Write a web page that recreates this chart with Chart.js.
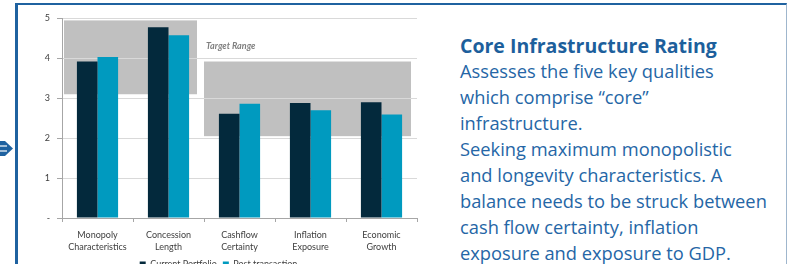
<!DOCTYPE html>
<html><head><meta charset="utf-8">
<script src="https://cdn.jsdelivr.net/npm/chart.js@4/dist/chart.umd.min.js"></script>
<style>
html,body{margin:0;padding:0;width:792px;height:264px;overflow:hidden;background:#fff;}
#frame{position:absolute;left:15px;top:3px;width:772px;height:300px;border-top:2px solid #1f62a0;border-left:3px solid #1f62a0;border-right:1px solid #9fb6cd;box-sizing:border-box;}
#wrap{position:absolute;left:20px;top:6px;width:420px;height:258px;overflow:hidden;}
#cv{position:absolute;left:0;top:0;}
#panel{position:absolute;left:460px;top:33px;width:330px;font-family:"Open Sans","Noto Sans",sans-serif;color:#2566a6;}
#title{font-weight:bold;font-size:19.5px;line-height:25px;color:#1d5f9c;white-space:nowrap;}
#body{font-size:18.3px;line-height:26px;white-space:nowrap;}
#arrow{position:absolute;left:0;top:138px;}
</style></head>
<body>
<div id="frame"></div>
<svg id="arrow" width="14" height="22"><polygon points="0,3 5,3 13,10.5 5,18 0,18" fill="#1f62a0"/><line x1="0" y1="8" x2="7" y2="8" stroke="#fff" stroke-width="1.2"/><line x1="0" y1="13" x2="7" y2="13" stroke="#fff" stroke-width="1.2"/></svg>
<div id="wrap"><canvas id="cv" width="420" height="273" style="width:420px;height:273px"></canvas></div>
<div id="panel">
<div id="title">Core Infrastructure Rating</div>
<div id="body">Assesses the five key qualities<br>which comprise “core”<br>infrastructure.<br>Seeking maximum monopolistic<br>and longevity characteristics. A<br>balance needs to be struck between<br>cash flow certainty, inflation<br>exposure and exposure to GDP.</div>
</div>
<script>
const categories = [['Monopoly','Characteristics'],['Concession','Length'],['Cashflow','Certainty'],['Inflation','Exposure'],['Economic','Growth']];
const seriesNames = ['Current Portfolio','Post transaction'];
const currentPortfolio = [3.92, 4.78, 2.61, 2.88, 2.90];
const postTransaction = [4.03, 4.58, 2.86, 2.70, 2.59];
const yTickLabels = ['-','1','2','3','4','5'];
const targetRangeLabel = 'Target Range';
const targetFirstCat = [0, 2];
const targetLastCat = [1, 4];
const targetLow = [3.1, 2.05];
const targetHigh = [4.95, 3.92];

const insetLeft = [2, 0];
const insetRight = [7, 6];

const targetPlugin = {
  id: 'targetRanges',
  beforeDraw(chart) {
    const xs = chart.scales.x, ys = chart.scales.y, ctx = chart.ctx;
    const half = (xs.getPixelForValue(1) - xs.getPixelForValue(0)) / 2;
    ctx.save();
    ctx.fillStyle = '#c0c0c0';
    for (let i = 0; i < targetLow.length; i++) {
      const l = xs.getPixelForValue(targetFirstCat[i]) - half + insetLeft[i];
      const r = xs.getPixelForValue(targetLastCat[i]) + half - insetRight[i];
      const t = ys.getPixelForValue(targetHigh[i]);
      const b = ys.getPixelForValue(targetLow[i]);
      ctx.fillRect(l, t, r - l, b - t);
    }
    const l2 = xs.getPixelForValue(targetFirstCat[1]) - half + insetLeft[1];
    const t2 = ys.getPixelForValue(targetHigh[1]);
    ctx.fillStyle = '#7f7f7f';
    ctx.font = 'italic bold 9px Lato';
    ctx.textBaseline = 'middle';
    ctx.fillText(targetRangeLabel, l2 + 2, t2 - 15);
    ctx.restore();
  }
};

new Chart(document.getElementById('cv'), {
  type: 'bar',
  data: {
    labels: categories,
    datasets: [
      {label: seriesNames[0], data: currentPortfolio, backgroundColor: '#03293c', categoryPercentage: 0.58, barPercentage: 1},
      {label: seriesNames[1], data: postTransaction, backgroundColor: '#009abf', categoryPercentage: 0.58, barPercentage: 1}
    ]
  },
  options: {
    responsive: false,
    animation: false,
    devicePixelRatio: 1,
    layout: {padding: {top: 4, right: 23, left: 0, bottom: 0}},
    plugins: {
      tooltip: {enabled: false},
      legend: {
        position: 'bottom',
        labels: {boxWidth: 6, boxHeight: 6, padding: 6, color: '#404040', font: {family: 'Lato', size: 9}}
      }
    },
    scales: {
      x: {
        afterFit(s) { s.height = 36; },
        grid: {display: true, offset: true, drawOnChartArea: false, tickLength: 4, tickColor: '#a6a6a6'},
        border: {color: '#a6a6a6'},
        ticks: {color: '#404040', font: {family: 'Lato', size: 9, lineHeight: 1.33}, padding: 7, maxRotation: 0, autoSkip: false}
      },
      y: {
        min: 0, max: 5,
        afterFit(s) { s.width = 42; },
        grid: {color: '#d9d9d9', tickLength: 5, tickColor: '#a6a6a6'},
        border: {color: '#a6a6a6'},
        ticks: {stepSize: 1, padding: 7, color: '#404040', font: {family: 'Lato', size: 9}, callback: v => yTickLabels[v]}
      }
    }
  },
  plugins: [targetPlugin]
});
</script>
</body></html>
